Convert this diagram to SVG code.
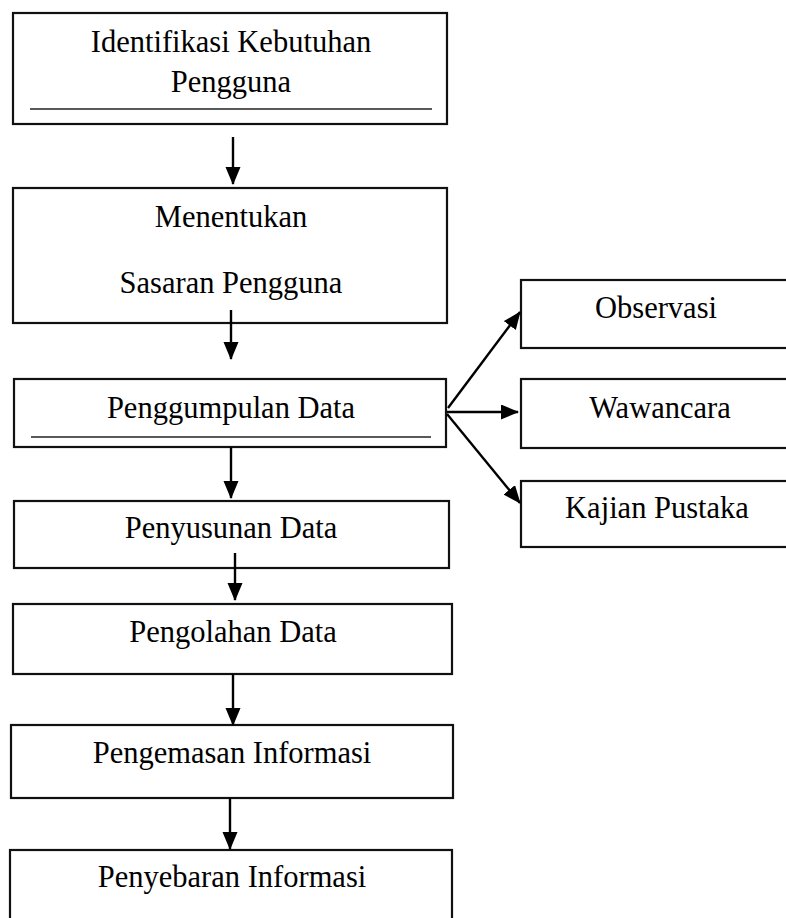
<svg xmlns="http://www.w3.org/2000/svg" width="786" height="918" viewBox="0 0 786 918">
<style>
.box{fill:#fff;stroke:#111;stroke-width:2.2}
.ul{stroke:#222;stroke-width:1.4}
.t{font-family:"Liberation Serif","Times New Roman",serif;font-size:30.5px;fill:#000;text-anchor:middle}
.c{stroke:#000;stroke-width:2.4;fill:none;marker-end:url(#ah)}
</style>
<defs>
<marker id="ah" markerUnits="userSpaceOnUse" markerWidth="19" markerHeight="16" refX="17" refY="7.5" orient="auto">
<path d="M0,0 L18,7.5 L0,15 z" fill="#000"/>
</marker>
</defs>
<rect width="786" height="918" fill="#fff"/>
<g id="n1">
<rect class="box" x="13" y="13" width="434" height="111"/>
<line class="ul" x1="30" y1="109" x2="432" y2="109"/>
<text class="t" x="231" y="52">Identifikasi Kebutuhan</text>
<text class="t" x="231" y="92">Pengguna</text>
</g>
<g id="n2">
<rect class="box" x="13" y="188" width="434" height="135"/>
<text class="t" x="231" y="227">Menentukan</text>
<text class="t" x="231" y="293">Sasaran Pengguna</text>
</g>
<g id="n3">
<rect class="box" x="14" y="379" width="432" height="68"/>
<line class="ul" x1="31" y1="437" x2="431" y2="437"/>
<text class="t" x="231" y="418">Penggumpulan Data</text>
</g>
<g id="n4">
<rect class="box" x="14" y="501" width="435" height="67"/>
<text class="t" x="231" y="538">Penyusunan Data</text>
</g>
<g id="n5">
<rect class="box" x="13" y="604" width="439" height="70"/>
<text class="t" x="233" y="642">Pengolahan Data</text>
</g>
<g id="n6">
<rect class="box" x="11" y="725" width="442" height="73"/>
<text class="t" x="232" y="763">Pengemasan Informasi</text>
</g>
<g id="n7">
<rect class="box" x="10" y="850" width="442" height="80"/>
<text class="t" x="232" y="887">Penyebaran Informasi</text>
</g>
<g id="n8">
<rect class="box" x="521" y="280" width="280" height="68"/>
<text class="t" x="656" y="318">Observasi</text>
</g>
<g id="n9">
<rect class="box" x="521" y="379" width="280" height="69"/>
<text class="t" x="660" y="418">Wawancara</text>
</g>
<g id="n10">
<rect class="box" x="521" y="481" width="280" height="66"/>
<text class="t" x="657" y="518">Kajian Pustaka</text>
</g>
<g id="connectors">
<line class="c" x1="233" y1="137" x2="233" y2="184"/>
<line class="c" x1="231" y1="310" x2="231" y2="359"/>
<line class="c" x1="231" y1="447" x2="231" y2="498"/>
<line class="c" x1="235" y1="553" x2="235" y2="600"/>
<line class="c" x1="233" y1="674" x2="233" y2="725"/>
<line class="c" x1="230" y1="798" x2="230" y2="849"/>
<line class="c" x1="448" y1="408" x2="520" y2="312"/>
<line class="c" x1="447" y1="412" x2="518" y2="412"/>
<line class="c" x1="447" y1="414" x2="520" y2="503"/>
</g>
</svg>
